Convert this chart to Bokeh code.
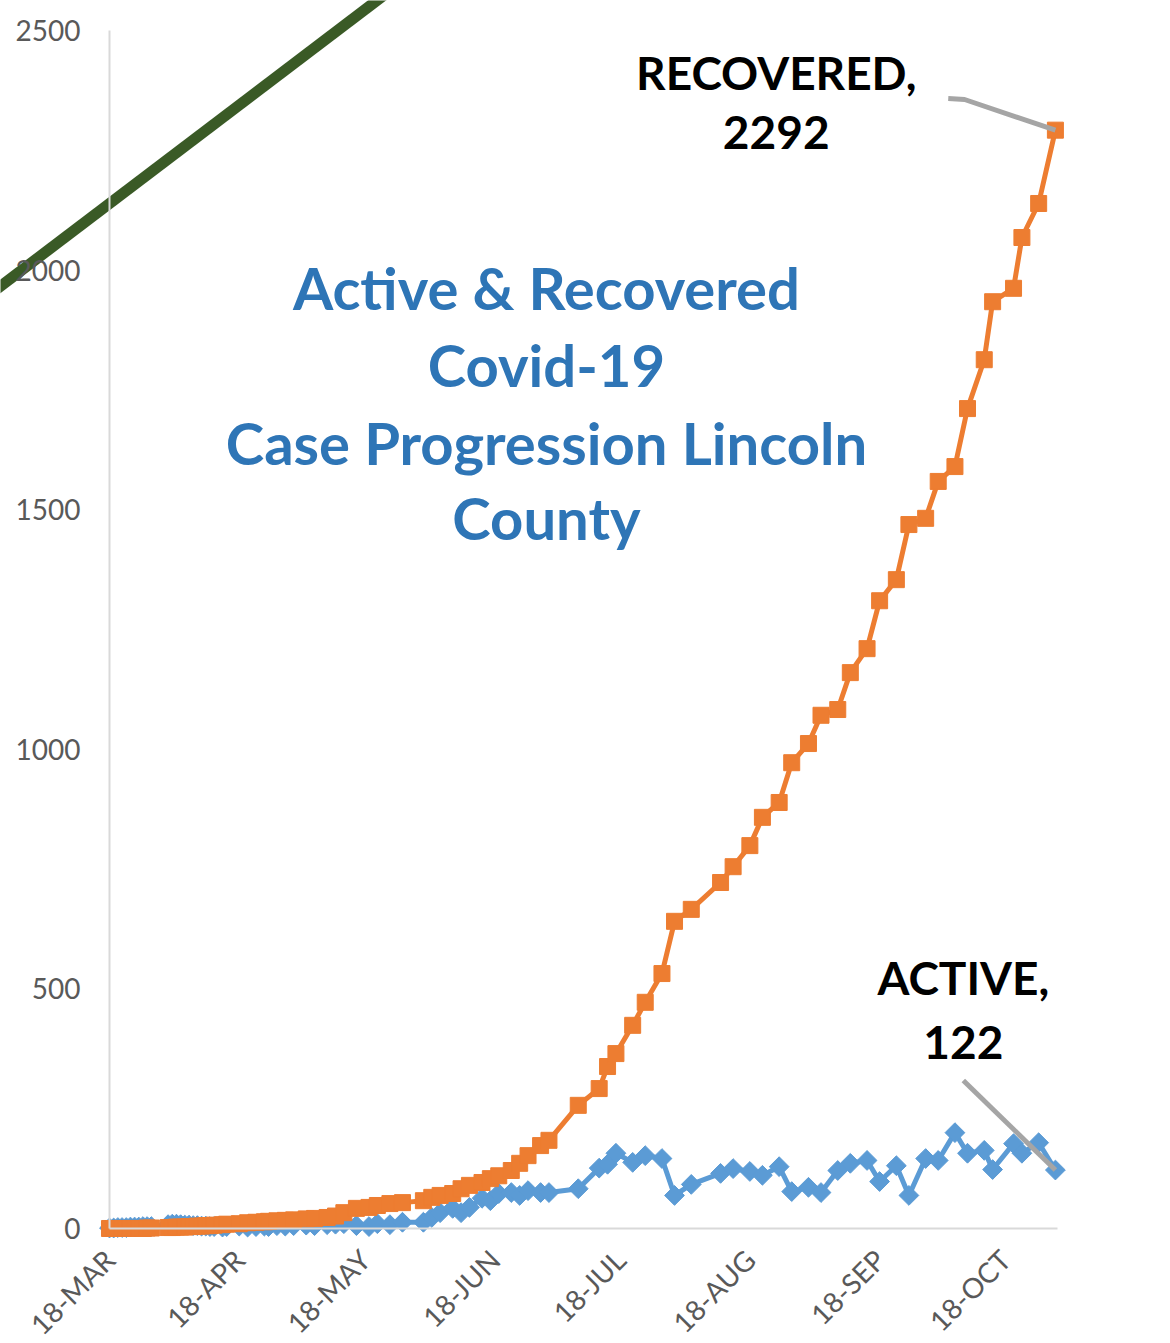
from math import pi
from bokeh.plotting import figure
from bokeh.models import Range1d, FixedTicker, Label
from bokeh.embed import file_html
from bokeh.resources import INLINE

# ---- data (x = days since 18-Mar-2020) ----
days = [0, 1, 2, 3, 4, 5, 6, 7, 8, 9, 10,
        14, 15, 16, 17, 18, 19, 20, 21, 22, 23, 24, 25,
        27, 28, 31, 33, 35, 37, 38, 40, 42, 44, 47, 49, 52, 54,
        56, 59, 62, 64, 67, 70, 75, 77, 79, 82, 84, 86, 89, 91, 93, 96, 98, 100, 103, 105,
        112, 117, 119, 121, 125, 128, 132, 135, 139, 146, 149, 153, 156, 160, 163, 167, 170,
        174, 177, 181, 184, 188, 191, 195, 198, 202, 205, 209, 211, 216, 218, 222, 226]

recovered = [0, 0, 0, 0, 0, 0, 0, 0, 0, 1, 1,
             2, 2, 3, 3, 3, 4, 4, 5, 5, 6, 6, 7,
             8, 9, 10, 12, 13, 14, 15, 16, 17, 18, 20, 21, 23, 26,
             33, 42, 44, 48, 52, 54, 58, 65, 69, 73, 83, 90, 96, 104, 110, 121, 136, 152, 173, 184,
             257, 292, 338, 365, 424, 472, 532, 641, 666, 722, 755, 799, 858, 889, 972, 1012, 1071,
             1083, 1160, 1210, 1310, 1354, 1469, 1482, 1559, 1590, 1711, 1813, 1934, 1962, 2068, 2139, 2292]

active = [1, 1, 2, 2, 2, 3, 3, 3, 4, 4, 4,
          8, 9, 9, 8, 7, 7, 6, 6, 5, 5, 4, 4,
          3, 4, 5, 3, 4, 5, 4, 6, 5, 6, 7, 6, 8, 9,
          10, 6, 4, 10, 8, 13, 13, 23, 33, 42, 33, 44, 63, 58, 73, 75, 69, 79, 75, 75,
          83, 126, 134, 157, 138, 152, 146, 69, 92, 115, 125, 119, 111, 129, 77, 86, 75,
          121, 136, 142, 98, 131, 69, 146, 142, 200, 157, 163, 123, 177, 157, 179, 122]

trend_days = [-30, 70]
trend_vals = [1940, 2603]

tick_days = [0, 31, 61, 92, 122, 153, 184, 214]
tick_labels = ["18-MAR", "18-APR", "18-MAY", "18-JUN", "18-JUL", "18-AUG", "18-SEP", "18-OCT"]
y_ticks = [0, 500, 1000, 1500, 2000, 2500]

title_lines = ["Active & Recovered", "Covid-19", "Case Progression Lincoln", "County"]

ORANGE = "#ED7D31"
BLUE = "#5B9BD5"
GREEN = "#3A5A26"
TITLE_BLUE = "#2E75B6"
GRAY_TXT = "#595959"
LEADER = "#A5A5A5"

p = figure(width=1170, height=1343,
           x_range=Range1d(-26.04, 253.5), y_range=Range1d(-240, 2562.6),
           output_backend="svg", toolbar_location=None,
           min_border_left=0, min_border_right=0, min_border_top=0, min_border_bottom=0)
p.outline_line_color = None
p.xgrid.visible = False
p.ygrid.visible = False
p.background_fill_color = "white"

# axes
p.yaxis.fixed_location = 0
p.yaxis.bounds = (0, y_ticks[-1])
p.yaxis.ticker = FixedTicker(ticks=y_ticks)
p.yaxis.major_tick_line_color = None
p.yaxis.minor_tick_line_color = None
p.yaxis.major_tick_out = 0
p.yaxis.major_tick_in = 0
p.yaxis.axis_line_color = "#D9D9D9"
p.yaxis.axis_line_width = 2
p.yaxis.major_label_text_font = "Lato"
p.yaxis.major_label_text_font_size = "28px"
p.yaxis.major_label_text_color = GRAY_TXT
p.yaxis.major_label_standoff = 29

p.xaxis.fixed_location = 0
p.xaxis.bounds = (days[0], days[-1] + 0.5)
p.xaxis.ticker = FixedTicker(ticks=tick_days)
p.xaxis.major_label_overrides = dict(zip(tick_days, tick_labels))
p.xaxis.major_label_orientation = pi / 4
p.xaxis.major_tick_line_color = None
p.xaxis.minor_tick_line_color = None
p.xaxis.major_tick_out = 0
p.xaxis.major_tick_in = 0
p.xaxis.axis_line_color = "#D9D9D9"
p.xaxis.axis_line_width = 2
p.xaxis.major_label_text_font = "Lato"
p.xaxis.major_label_text_font_size = "28px"
p.xaxis.major_label_text_color = GRAY_TXT
p.xaxis.major_label_standoff = 26

# series
p.line(trend_days, trend_vals, line_color=GREEN, line_width=11)
p.line(days, active, line_color=BLUE, line_width=5)
p.scatter(days, active, marker="square", angle=pi / 4, size=14, fill_color=BLUE, line_color=BLUE)
p.line(days, recovered, line_color=ORANGE, line_width=5)
p.scatter(days, recovered, marker="square", size=16, fill_color=ORANGE, line_color=ORANGE)

# leader lines for data labels
p.line([200.4, 204.3, days[-1]], [2358, 2356, recovered[-1]], line_color=LEADER, line_width=5)
p.line([204, days[-1]], [309, active[-1]], line_color=LEADER, line_width=5)

# title
title_y = [1963, 1802, 1641, 1483]
for t, yy in zip(title_lines, title_y):
    p.add_layout(Label(x=104.4, y=yy, text=t, text_align="center", text_baseline="alphabetic",
                       text_font="Lato", text_font_style="bold", text_font_size="58px",
                       text_color=TITLE_BLUE))

# data labels
for t, xx, yy in [("RECOVERED,", 159.3, 2412), (str(recovered[-1]), 159.3, 2287),
                  ("ACTIVE,", 204.0, 524), (str(active[-1]), 204.0, 388)]:
    p.add_layout(Label(x=xx, y=yy, text=t, text_align="center", text_baseline="alphabetic",
                       text_font="Lato", text_font_style="bold", text_font_size="46px",
                       text_color="black"))

open("out.html", "w").write(file_html(p, INLINE))
